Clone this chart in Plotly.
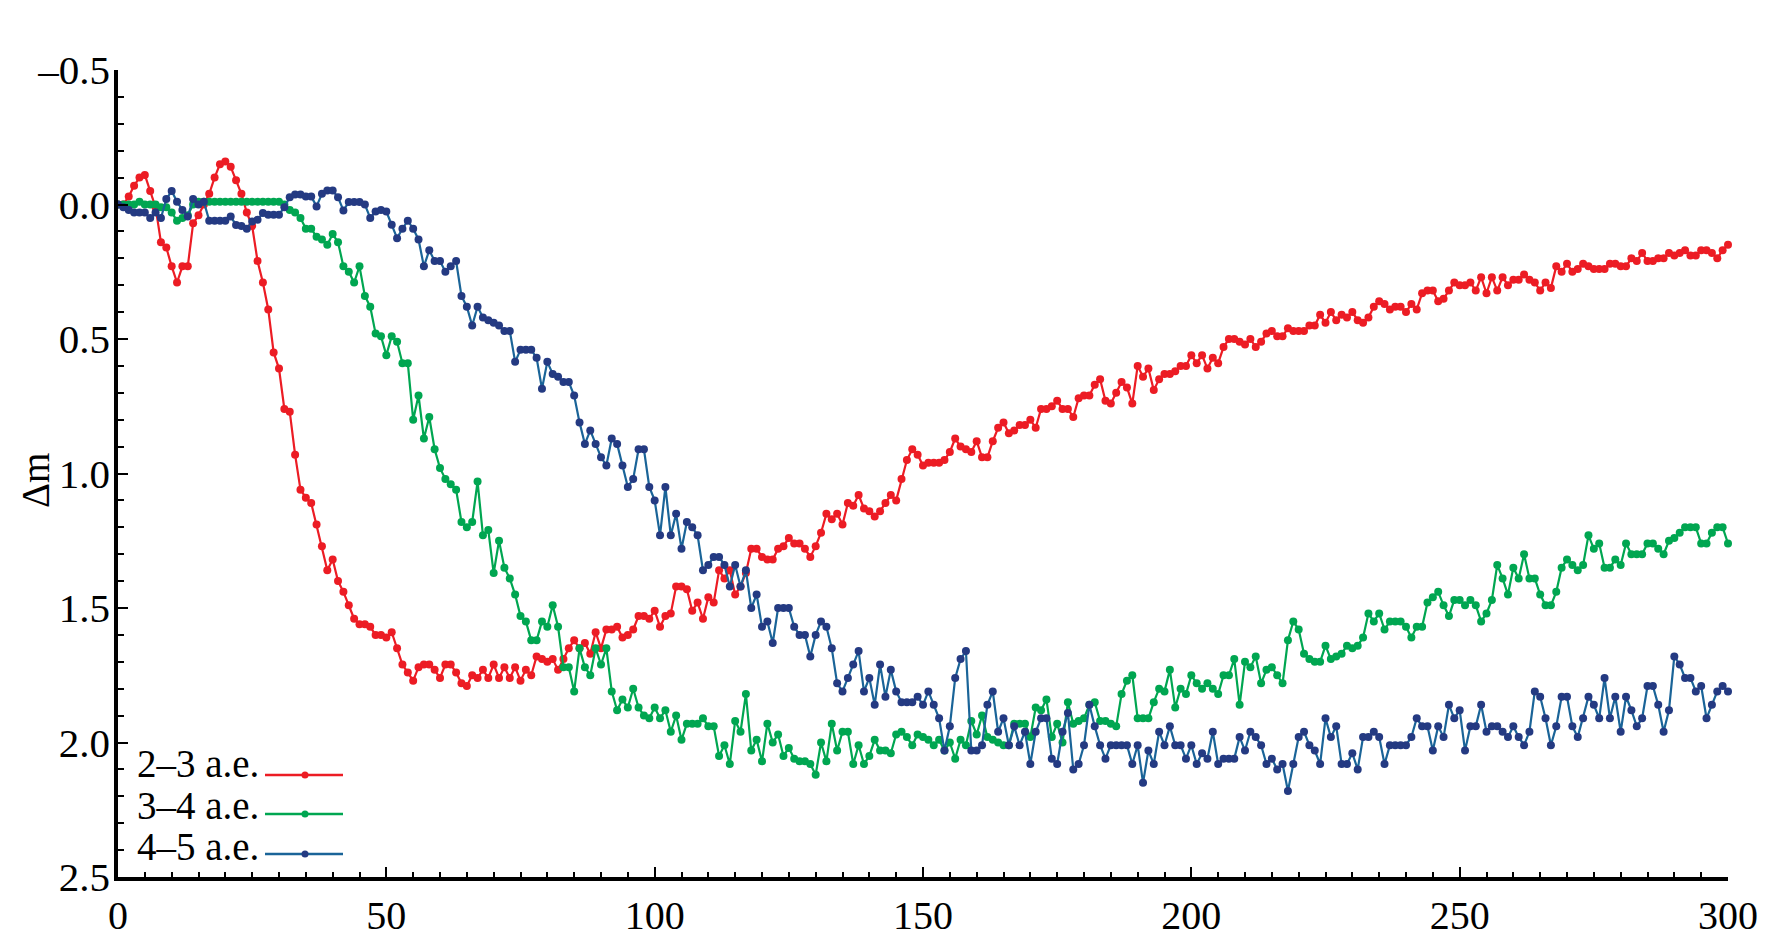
import plotly.graph_objects as go

# ---------------- data ----------------
x_vals = list(range(0, 301))

red_23 = [
    0.00, 0.00, -0.03, -0.07, -0.10, -0.11, -0.05, 0.01, 0.14, 0.16,
    0.23, 0.29, 0.23, 0.23, 0.07, 0.04, 0.00, -0.04, -0.10, -0.15,
    -0.16, -0.14, -0.09, -0.04, 0.03, 0.08, 0.21, 0.29, 0.39, 0.55,
    0.61, 0.76, 0.77, 0.93, 1.06, 1.09, 1.11, 1.19, 1.27, 1.36,
    1.32, 1.40, 1.44, 1.49, 1.54, 1.56, 1.56, 1.57, 1.60, 1.60,
    1.61, 1.59, 1.65, 1.71, 1.74, 1.77, 1.72, 1.71, 1.71, 1.73,
    1.76, 1.71, 1.71, 1.74, 1.78, 1.79, 1.75, 1.76, 1.73, 1.76,
    1.71, 1.76, 1.72, 1.76, 1.72, 1.77, 1.73, 1.75, 1.68, 1.69,
    1.70, 1.69, 1.73, 1.69, 1.65, 1.62, 1.65, 1.63, 1.67, 1.59,
    1.65, 1.58, 1.58, 1.57, 1.61, 1.60, 1.58, 1.53, 1.53, 1.54,
    1.51, 1.57, 1.53, 1.52, 1.42, 1.42, 1.43, 1.51, 1.48, 1.54,
    1.46, 1.48, 1.36, 1.39, 1.36, 1.45, 1.42, 1.37, 1.28, 1.28,
    1.31, 1.32, 1.32, 1.28, 1.27, 1.24, 1.26, 1.26, 1.28, 1.31,
    1.27, 1.22, 1.15, 1.17, 1.15, 1.19, 1.11, 1.12, 1.08, 1.13,
    1.14, 1.16, 1.14, 1.11, 1.08, 1.10, 1.02, 0.95, 0.91, 0.93,
    0.97, 0.96, 0.96, 0.96, 0.95, 0.92, 0.87, 0.90, 0.91, 0.92,
    0.88, 0.94, 0.94, 0.88, 0.83, 0.81, 0.85, 0.84, 0.82, 0.82,
    0.80, 0.83, 0.76, 0.76, 0.75, 0.73, 0.76, 0.76, 0.79, 0.72,
    0.71, 0.71, 0.67, 0.65, 0.73, 0.74, 0.70, 0.66, 0.68, 0.74,
    0.60, 0.64, 0.61, 0.69, 0.65, 0.63, 0.63, 0.62, 0.60, 0.60,
    0.56, 0.59, 0.56, 0.61, 0.57, 0.59, 0.53, 0.50, 0.50, 0.51,
    0.52, 0.50, 0.53, 0.51, 0.48, 0.47, 0.49, 0.49, 0.46, 0.47,
    0.47, 0.47, 0.45, 0.45, 0.41, 0.44, 0.40, 0.43, 0.41, 0.42,
    0.40, 0.43, 0.44, 0.42, 0.38, 0.36, 0.37, 0.39, 0.38, 0.38,
    0.40, 0.37, 0.39, 0.33, 0.32, 0.32, 0.36, 0.35, 0.32, 0.29,
    0.30, 0.30, 0.29, 0.32, 0.27, 0.33, 0.27, 0.32, 0.27, 0.30,
    0.28, 0.28, 0.26, 0.28, 0.29, 0.32, 0.29, 0.31, 0.23, 0.25,
    0.22, 0.25, 0.24, 0.22, 0.23, 0.24, 0.24, 0.24, 0.22, 0.22,
    0.23, 0.23, 0.20, 0.21, 0.18, 0.21, 0.21, 0.20, 0.20, 0.18,
    0.19, 0.18, 0.17, 0.19, 0.19, 0.17, 0.17, 0.18, 0.20, 0.17,
    0.15,
]

green_34 = [
    0.00, 0.00, 0.00, 0.00, -0.01, 0.00, 0.00, 0.00, 0.01, 0.01,
    0.03, 0.06, 0.05, 0.04, 0.00, -0.01, -0.01, -0.01, -0.01, -0.01,
    -0.01, -0.01, -0.01, -0.01, -0.01, -0.01, -0.01, -0.01, -0.01, -0.01,
    -0.01, 0.00, 0.02, 0.03, 0.05, 0.09, 0.09, 0.12, 0.13, 0.15,
    0.11, 0.14, 0.23, 0.25, 0.29, 0.23, 0.34, 0.38, 0.48, 0.49,
    0.56, 0.49, 0.51, 0.59, 0.59, 0.80, 0.71, 0.87, 0.79, 0.91,
    0.98, 1.02, 1.04, 1.06, 1.18, 1.20, 1.18, 1.03, 1.23, 1.21,
    1.37, 1.25, 1.35, 1.39, 1.45, 1.53, 1.55, 1.62, 1.62, 1.55,
    1.57, 1.49, 1.57, 1.72, 1.72, 1.81, 1.65, 1.72, 1.75, 1.65,
    1.71, 1.65, 1.81, 1.88, 1.84, 1.87, 1.80, 1.87, 1.90, 1.91,
    1.87, 1.91, 1.88, 1.96, 1.90, 1.99, 1.93, 1.93, 1.93, 1.91,
    1.94, 1.94, 2.05, 2.01, 2.08, 1.92, 1.96, 1.82, 2.03, 1.99,
    2.07, 1.93, 2.00, 1.97, 2.05, 2.02, 2.06, 2.07, 2.07, 2.08,
    2.12, 2.00, 2.07, 1.93, 2.03, 1.96, 1.96, 2.08, 2.01, 2.08,
    2.05, 1.99, 2.03, 2.03, 2.04, 1.97, 1.96, 1.98, 2.01, 1.97,
    1.98, 1.99, 2.01, 1.99, 2.03, 2.00, 2.06, 1.99, 2.01, 1.92,
    1.97, 1.90, 1.98, 1.99, 2.00, 2.01, 2.01, 1.93, 1.93, 1.93,
    1.98, 1.87, 1.88, 1.84, 1.98, 1.93, 2.00, 1.85, 1.93, 1.92,
    1.91, 1.86, 1.85, 1.92, 1.92, 1.93, 1.94, 1.82, 1.77, 1.75,
    1.91, 1.91, 1.91, 1.85, 1.80, 1.81, 1.73, 1.87, 1.80, 1.82,
    1.75, 1.78, 1.80, 1.78, 1.80, 1.82, 1.75, 1.75, 1.69, 1.86,
    1.70, 1.72, 1.68, 1.78, 1.73, 1.72, 1.75, 1.78, 1.62, 1.55,
    1.58, 1.67, 1.69, 1.70, 1.70, 1.64, 1.69, 1.68, 1.67, 1.64,
    1.65, 1.64, 1.61, 1.52, 1.55, 1.52, 1.58, 1.55, 1.55, 1.55,
    1.57, 1.61, 1.57, 1.57, 1.48, 1.46, 1.44, 1.49, 1.53, 1.47,
    1.47, 1.49, 1.47, 1.49, 1.55, 1.52, 1.47, 1.34, 1.39, 1.45,
    1.35, 1.39, 1.30, 1.39, 1.39, 1.45, 1.49, 1.49, 1.44, 1.35,
    1.32, 1.34, 1.36, 1.34, 1.23, 1.28, 1.26, 1.35, 1.35, 1.32,
    1.34, 1.26, 1.30, 1.30, 1.30, 1.26, 1.26, 1.28, 1.30, 1.25,
    1.24, 1.22, 1.20, 1.20, 1.20, 1.26, 1.26, 1.22, 1.20, 1.20,
    1.26,
]

blue_45 = [
    0.00, 0.01, 0.02, 0.03, 0.03, 0.03, 0.05, 0.03, 0.05, -0.02,
    -0.05, -0.01, 0.02, 0.045, -0.02, 0.00, -0.01, 0.06, 0.06, 0.06,
    0.06, 0.045, 0.076, 0.08, 0.09, 0.063, 0.057, 0.032, 0.038, 0.038,
    0.038, 0.01, -0.027, -0.037, -0.037, -0.03, -0.03, 0.007, -0.04, -0.052,
    -0.052, -0.027, 0.022, -0.009, -0.009, -0.009, 0.00, 0.05, 0.026, 0.02,
    0.026, 0.075, 0.125, 0.09, 0.06, 0.09, 0.13, 0.23, 0.17, 0.21,
    0.21, 0.25, 0.23, 0.21, 0.34, 0.38, 0.45, 0.38, 0.42, 0.43,
    0.44, 0.45, 0.47, 0.47, 0.585, 0.54, 0.54, 0.54, 0.57, 0.685,
    0.585, 0.63, 0.64, 0.66, 0.66, 0.71, 0.81, 0.89, 0.84, 0.89,
    0.94, 0.97, 0.87, 0.89, 0.97, 1.05, 1.02, 0.91, 0.91, 1.05,
    1.10, 1.23, 1.05, 1.23, 1.15, 1.28, 1.18, 1.20, 1.23, 1.36,
    1.34, 1.31, 1.31, 1.34, 1.42, 1.34, 1.42, 1.36, 1.50, 1.45,
    1.57, 1.55, 1.63, 1.50, 1.50, 1.50, 1.57, 1.60, 1.60, 1.68,
    1.60, 1.55, 1.57, 1.65, 1.78, 1.81, 1.76, 1.71, 1.66, 1.81,
    1.76, 1.86, 1.71, 1.83, 1.73, 1.81, 1.85, 1.85, 1.85, 1.83,
    1.86, 1.81, 1.86, 1.91, 2.03, 1.94, 1.76, 1.69, 1.66, 2.03,
    2.03, 2.01, 1.86, 1.81, 1.96, 1.91, 2.01, 1.94, 2.01, 1.96,
    2.08, 1.96, 1.91, 1.91, 2.06, 2.08, 1.96, 1.89, 2.10, 2.08,
    2.01, 1.86, 1.94, 2.01, 2.06, 2.01, 2.01, 2.01, 2.01, 2.08,
    2.01, 2.15, 2.03, 2.08, 1.96, 2.01, 1.94, 2.01, 2.01, 2.06,
    2.01, 2.08, 2.04, 2.06, 1.96, 2.08, 2.06, 2.06, 2.06, 1.98,
    2.03, 1.96, 1.98, 2.01, 2.08, 2.06, 2.10, 2.08, 2.18, 2.08,
    1.98, 1.96, 2.01, 2.03, 2.08, 1.91, 1.98, 1.94, 2.08, 2.08,
    2.04, 2.10, 1.98, 1.98, 1.96, 1.98, 2.08, 2.01, 2.01, 2.01,
    2.01, 1.98, 1.91, 1.94, 1.94, 2.03, 1.94, 1.98, 1.86, 1.91,
    1.88, 2.03, 1.94, 1.94, 1.86, 1.96, 1.94, 1.94, 1.96, 1.98,
    1.94, 1.98, 2.01, 1.96, 1.81, 1.83, 1.91, 2.01, 1.94, 1.83,
    1.83, 1.94, 1.98, 1.91, 1.83, 1.86, 1.91, 1.76, 1.91, 1.83,
    1.96, 1.83, 1.88, 1.94, 1.91, 1.79, 1.79, 1.86, 1.96, 1.88,
    1.68, 1.71, 1.76, 1.76, 1.81, 1.79, 1.91, 1.86, 1.81, 1.79,
    1.81,
]

series_names = ["2\u20133 a.e.", "3\u20134 a.e.", "4\u20135 a.e."]
x_tick_vals = [0, 50, 100, 150, 200, 250, 300]
y_tick_vals = [-0.5, 0.0, 0.5, 1.0, 1.5, 2.0, 2.5]
y_tick_text = ["\u20130.5", "0.0", "0.5", "1.0", "1.5", "2.0", "2.5"]
y_title = "\u0394m"

# ---------------- styling ----------------
FONT = "Liberation Serif, Times New Roman, serif"
line_colors = ["#ec1c24", "#00a651", "#1a6498"]
marker_colors = ["#ec1c24", "#00a651", "#243a82"]

fig = go.Figure()
for name, yv, lc, mc in zip(series_names, [red_23, green_34, blue_45],
                            line_colors, marker_colors):
    fig.add_trace(go.Scatter(
        x=x_vals, y=yv, mode="lines+markers", name=name,
        line=dict(color=lc, width=2.2),
        marker=dict(color=mc, size=8),
        cliponaxis=False, showlegend=False,
    ))

axis_common = dict(
    showline=True, linecolor="black", linewidth=3.5,
    ticks="inside", tickcolor="black", tickwidth=2, ticklen=10,
    showgrid=False, zeroline=False, mirror=False, automargin=False,
)

fig.update_xaxes(
    range=[0, 300], tickvals=x_tick_vals,
    minor=dict(ticks="inside", ticklen=5, tickwidth=1.5, tickcolor="black",
               tick0=0, dtick=5, showgrid=False),
    ticklabelstandoff=0,
    tickfont=dict(family=FONT, size=40, color="black"),
    **axis_common,
)
fig.update_yaxes(
    range=[2.5, -0.5], tickvals=y_tick_vals, ticktext=y_tick_text,
    minor=dict(ticks="inside", ticklen=6, tickwidth=1.5, tickcolor="black",
               tick0=0, dtick=0.1, showgrid=False),
    ticklabelstandoff=-4,
    tickfont=dict(family=FONT, size=41, color="black"),
    **axis_common,
)

# plot area in pixels: left 118, right 1728, top 70, bottom 877
W, H = 1783, 945
L, R, T, B = 118, 55, 70, 68
PW = W - L - R
PH = H - T - B

def px_to_paper_x(px):
    return (px - L) / PW

def px_to_paper_y(py):
    return (H - B - py) / PH

annotations = [
    dict(text=y_title, x=px_to_paper_x(35), y=px_to_paper_y(481),
         xref="paper", yref="paper", showarrow=False, textangle=-90,
         font=dict(family=FONT, size=39, color="black"),
         xanchor="center", yanchor="middle"),
]
shapes = []
text_rows = [763, 805, 846]
line_rows = [775, 814, 854]
for name, lc, mc, ty, ly in zip(series_names, line_colors, marker_colors,
                                text_rows, line_rows):
    annotations.append(dict(
        text=name, x=px_to_paper_x(261), y=px_to_paper_y(ty),
        xref="paper", yref="paper", showarrow=False,
        xanchor="right", yanchor="middle",
        font=dict(family=FONT, size=39, color="black")))
    shapes.append(dict(
        type="line", xref="paper", yref="paper",
        x0=px_to_paper_x(265), x1=px_to_paper_x(343),
        y0=px_to_paper_y(ly), y1=px_to_paper_y(ly),
        line=dict(color=lc, width=2.5)))
    shapes.append(dict(
        type="circle", xref="paper", yref="paper",
        xsizemode="pixel", ysizemode="pixel",
        xanchor=px_to_paper_x(305), yanchor=px_to_paper_y(ly),
        x0=-3.5, x1=3.5, y0=-3.5, y1=3.5,
        fillcolor=mc, line=dict(color=mc, width=0)))

fig.update_layout(
    width=W, height=H,
    margin=dict(l=L, r=R, t=T, b=B, pad=0, autoexpand=False),
    paper_bgcolor="white", plot_bgcolor="white",
    showlegend=False,
    annotations=annotations, shapes=shapes,
    font=dict(family=FONT, color="black"),
)

fig.write_html("out.html",
               config={"displayModeBar": False},
               post_script="document.body.style.margin='0';document.body.style.overflow='hidden';")
